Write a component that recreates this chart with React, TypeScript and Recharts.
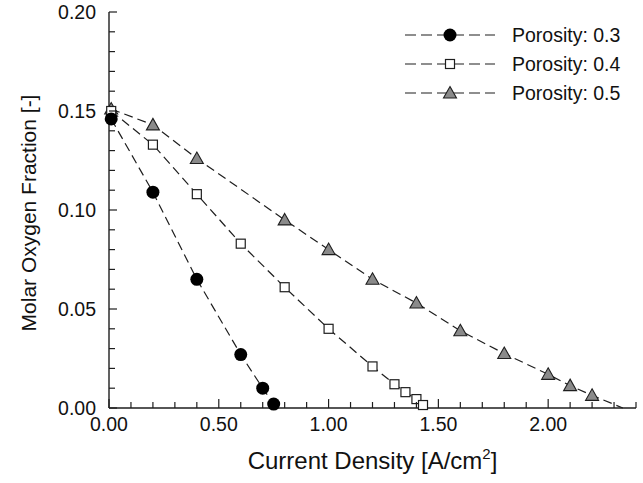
import React from "react"
import { ScatterChart, Scatter, XAxis, YAxis, Label } from "recharts"

// porosity 0.3 (filled circles)
const p03X = [0.01, 0.2, 0.4, 0.6, 0.7, 0.75]
const p03Y = [0.146, 0.109, 0.065, 0.027, 0.01, 0.002]

// porosity 0.4 (open squares)
const p04X = [0.01, 0.2, 0.4, 0.6, 0.8, 1.0, 1.2, 1.3, 1.35, 1.4, 1.43]
const p04Y = [0.15, 0.133, 0.108, 0.083, 0.061, 0.04, 0.021, 0.012, 0.008, 0.0045, 0.0015]

// porosity 0.5 (grey triangles), last point is where the line meets the axis
const p05X = [0.01, 0.2, 0.4, 0.8, 1.0, 1.2, 1.4, 1.6, 1.8, 2.0, 2.1, 2.2, 2.34]
const p05Y = [0.151, 0.143, 0.126, 0.095, 0.08, 0.065, 0.053, 0.039, 0.0275, 0.017, 0.0113, 0.0064, 0]

const seriesNames = ["Porosity: 0.3", "Porosity: 0.4", "Porosity: 0.5"]

const xTicks = [0, 0.1, 0.2, 0.3, 0.4, 0.5, 0.6, 0.7, 0.8, 0.9, 1.0, 1.1, 1.2, 1.3, 1.4, 1.5, 1.6, 1.7, 1.8, 1.9, 2.0, 2.1, 2.2, 2.3, 2.4]
const yTicks = [0, 0.01, 0.02, 0.03, 0.04, 0.05, 0.06, 0.07, 0.08, 0.09, 0.1, 0.11, 0.12, 0.13, 0.14, 0.15, 0.16, 0.17, 0.18, 0.19, 0.2]

const FONT = '"Liberation Sans", Arial, Helvetica, sans-serif'
const INK = "#1e1e1e"
const DASH = "9 5"

const zip = (xs: number[], ys: number[]) => xs.map((x, i) => ({ x, y: ys[i] }))

const isStep = (v: number, step: number) => Math.abs(v / step - Math.round(v / step)) < 1e-6

const XTick = (props: any) => {
  const { x, y, payload } = props
  const major = isStep(payload.value, 0.5)
  return (
    <g>
      <line x1={x} x2={x} y1={y} y2={y - (major ? 9 : 6)} stroke={INK} strokeWidth={1.2} />
      {major && (
        <text x={x} y={y + 23} textAnchor="middle" fontSize={19.5} fontFamily={FONT} fill="#111">
          {payload.value.toFixed(2)}
        </text>
      )}
    </g>
  )
}

const YTick = (props: any) => {
  const { x, y, payload } = props
  const major = isStep(payload.value, 0.05)
  return (
    <g>
      <line x1={x} x2={x + (major ? 8 : 6)} y1={y} y2={y} stroke={INK} strokeWidth={1.2} />
      {major && (
        <text x={x - 13} y={y} dy="0.36em" textAnchor="end" fontSize={19.5} fontFamily={FONT} fill="#111">
          {payload.value.toFixed(2)}
        </text>
      )}
    </g>
  )
}

const Circle = (p: any) => <circle cx={p.cx} cy={p.cy} r={6.5} fill="#000" />
const Square = (p: any) => (
  <rect x={p.cx - 4.5} y={p.cy - 4.5} width={9} height={9} fill="#fff" stroke={INK} strokeWidth={1.2} />
)
const Triangle = (p: any) => {
  if (p.payload && p.payload.y <= 0) return <g />
  const { cx, cy } = p
  return (
    <path
      d={`M${cx},${cy - 6.5} L${cx + 6.5},${cy + 5} L${cx - 6.5},${cy + 5} Z`}
      fill="#8a8a8a"
      stroke={INK}
      strokeWidth={1.1}
    />
  )
}

const LegendBox = () => {
  const rows = [Circle, Square, Triangle]
  return (
    <svg width={240} height={90} style={{ position: "absolute", left: 400, top: 20 }}>
      {rows.map((Shape, i) => {
        const cy = 15 + i * 29
        return (
          <g key={seriesNames[i]}>
            <line x1={5} x2={95} y1={cy} y2={cy} stroke={INK} strokeWidth={1.2} strokeDasharray="11 5" />
            <Shape cx={50} cy={cy} />
            <text x={112} y={cy} dy="0.36em" fontSize={19.5} fontFamily={FONT} fill="#111">
              {seriesNames[i]}
            </text>
          </g>
        )
      })}
    </svg>
  )
}

export default function App() {
  const lineStyle = { stroke: INK, strokeWidth: 1.2, strokeDasharray: DASH }
  return (
    <div style={{ position: "absolute", left: 0, top: 0, width: 643, height: 483, background: "#fff" }}>
      <ScatterChart width={643} height={483} margin={{ top: 12, right: 7, bottom: 35, left: 49 }}>
        <XAxis
          dataKey="x"
          type="number"
          domain={[0, 2.4]}
          ticks={xTicks}
          interval={0}
          tickSize={0}
          tickMargin={0}
          tickLine={false}
          tick={<XTick />}
          axisLine={{ stroke: INK, strokeWidth: 1.4 }}
          height={40}
        >
          <Label
            content={(lp: any) => {
              const vb = lp.viewBox
              return (
                <text x={vb.x + vb.width / 2} y={469} textAnchor="middle" fontSize={24} fontFamily={FONT} fill="#111">
                  Current Density [A/cm
                  <tspan dy={-10} fontSize={15}>2</tspan>
                  <tspan dy={10}>]</tspan>
                </text>
              )
            }}
          />
        </XAxis>
        <XAxis
          xAxisId="top"
          orientation="top"
          type="number"
          domain={[0, 2.4]}
          tick={false}
          tickLine={false}
          height={0}
          axisLine={{ stroke: INK, strokeWidth: 1.4 }}
        />
        <YAxis
          dataKey="y"
          type="number"
          domain={[0, 0.2]}
          ticks={yTicks}
          interval={0}
          tickSize={0}
          tickMargin={0}
          tickLine={false}
          tick={<YTick />}
          axisLine={{ stroke: INK, strokeWidth: 1.4 }}
          width={60}
        >
          <Label
            content={(lp: any) => {
              const vb = lp.viewBox
              const cy = vb.y + vb.height / 2 + 3
              return (
                <text
                  x={28}
                  y={cy}
                  transform={`rotate(-90, 28, ${cy})`}
                  textAnchor="middle"
                  dominantBaseline="central"
                  fontSize={21}
                  fontFamily={FONT}
                  fill="#111"
                >
                  Molar Oxygen Fraction [-]
                </text>
              )
            }}
          />
        </YAxis>
        <YAxis
          yAxisId="right"
          orientation="right"
          type="number"
          domain={[0, 0.2]}
          tick={false}
          tickLine={false}
          width={0}
          axisLine={{ stroke: INK, strokeWidth: 1.4 }}
        />

        <Scatter name={seriesNames[2]} data={zip(p05X, p05Y)} line={lineStyle} shape={<Triangle />} isAnimationActive={false} />
        <Scatter name={seriesNames[1]} data={zip(p04X, p04Y)} line={lineStyle} shape={<Square />} isAnimationActive={false} />
        <Scatter name={seriesNames[0]} data={zip(p03X, p03Y)} line={lineStyle} shape={<Circle />} isAnimationActive={false} />
      </ScatterChart>
      <LegendBox />
    </div>
  )
}
